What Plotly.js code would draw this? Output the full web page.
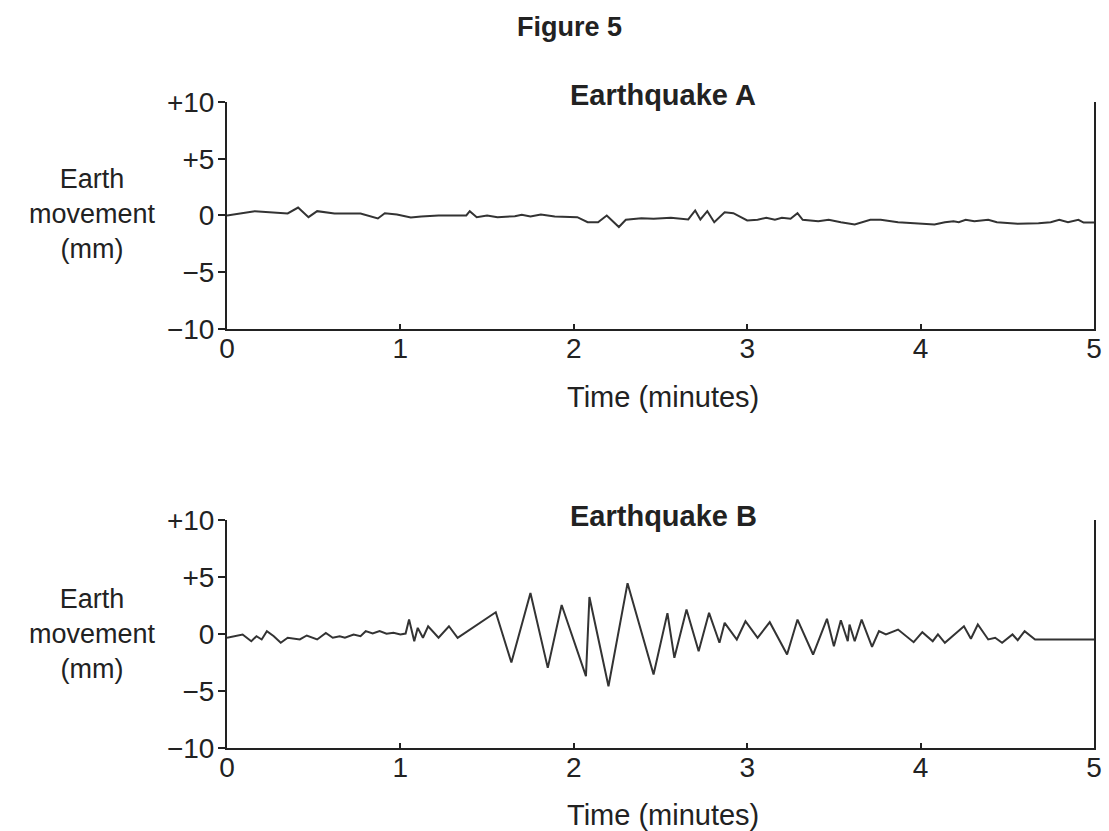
<!DOCTYPE html>
<html>
<head>
<meta charset="utf-8">
<script src="https://cdn.plot.ly/plotly-3.0.1.min.js"></script>
<style>html,body{margin:0;padding:0;background:#fff;}#chart{width:1109px;height:831px;}</style>
</head>
<body>
<div id="chart"></div>
<script>
// Earthquake A (time in minutes, earth movement in mm)
var timeA = [0,0.16,0.35,0.41,0.47,0.52,0.62,0.77,0.87,0.91,0.98,1.06,1.12,1.22,1.38,1.40,1.44,1.50,1.56,1.66,1.70,1.75,1.81,1.89,2.02,2.08,2.14,2.19,2.26,2.30,2.39,2.46,2.56,2.66,2.70,2.73,2.77,2.81,2.87,2.92,3.00,3.06,3.11,3.16,3.20,3.25,3.29,3.32,3.41,3.47,3.54,3.62,3.71,3.77,3.87,3.98,4.08,4.14,4.19,4.22,4.26,4.31,4.39,4.44,4.56,4.68,4.75,4.80,4.85,4.91,4.94,5.0];
var moveA = [0.0,0.38,0.18,0.70,-0.15,0.38,0.18,0.18,-0.26,0.20,0.09,-0.18,-0.09,0.0,0.0,0.38,-0.15,0.0,-0.15,-0.06,0.06,-0.09,0.09,-0.09,-0.15,-0.59,-0.59,0.0,-1.02,-0.38,-0.24,-0.29,-0.2,-0.35,0.44,-0.35,0.38,-0.59,0.29,0.20,-0.44,-0.38,-0.2,-0.38,-0.2,-0.29,0.20,-0.38,-0.5,-0.38,-0.59,-0.79,-0.38,-0.38,-0.59,-0.68,-0.79,-0.59,-0.5,-0.59,-0.38,-0.5,-0.38,-0.59,-0.73,-0.68,-0.59,-0.38,-0.59,-0.38,-0.62,-0.62];

// Earthquake B
var timeB = [0.00,0.09,0.14,0.17,0.20,0.23,0.27,0.31,0.35,0.42,0.46,0.52,0.57,0.61,0.65,0.68,0.73,0.77,0.80,0.84,0.88,0.92,0.96,1.00,1.03,1.05,1.08,1.10,1.13,1.16,1.22,1.28,1.33,1.55,1.64,1.75,1.85,1.93,2.07,2.09,2.20,2.31,2.46,2.54,2.58,2.65,2.72,2.78,2.84,2.87,2.94,2.99,3.06,3.13,3.23,3.29,3.38,3.46,3.50,3.54,3.58,3.59,3.62,3.66,3.72,3.76,3.80,3.87,3.96,4.01,4.07,4.10,4.14,4.25,4.29,4.33,4.39,4.43,4.47,4.53,4.56,4.60,4.66,5.00];
var moveB = [-0.33,-0.04,-0.63,-0.19,-0.48,0.25,-0.19,-0.77,-0.33,-0.48,-0.13,-0.48,0.10,-0.33,-0.19,-0.33,-0.04,-0.19,0.25,0.04,0.25,0.02,0.10,-0.04,0.04,1.27,-0.63,0.54,-0.33,0.68,-0.33,0.68,-0.33,1.91,-2.5,3.6,-2.97,2.55,-3.70,3.25,-4.58,4.46,-3.55,1.83,-2.09,2.15,-1.51,1.86,-0.77,0.98,-0.48,1.12,-0.33,1.04,-1.80,1.27,-1.80,1.33,-1.07,1.21,-0.63,0.83,-0.63,1.27,-1.12,0.25,-0.04,0.39,-0.72,0.16,-0.63,-0.04,-0.77,0.68,-0.42,0.83,-0.48,-0.33,-0.77,-0.04,-0.54,0.25,-0.48,-0.48];

var yTickVals = [-10,-5,0,5,10];
var yTickText = ["\u221210","\u22125","0","+5","+10"];
var xTickVals = [0,1,2,3,4,5];
var xTickText = ["0","1","2","3","4","5"];

var FONT = "Liberation Sans, Arial, sans-serif";
var INK = "#222";

var traces = [
  {x: timeA, y: moveA, xaxis: "x", yaxis: "y", type: "scatter", mode: "lines",
   line: {color: "#333", width: 2}, hoverinfo: "skip"},
  {x: timeB, y: moveB, xaxis: "x2", yaxis: "y2", type: "scatter", mode: "lines",
   line: {color: "#333", width: 2}, hoverinfo: "skip"}
];

function xAxis(anchor) {
  return {anchor: anchor, domain: [0, 1], range: [0, 5], showgrid: false, zeroline: false,
    showline: true, linecolor: INK, linewidth: 2, mirror: false,
    ticks: "inside", ticklen: 5, tickwidth: 2, tickcolor: INK,
    tickvals: xTickVals, ticktext: xTickText, ticklabelstandoff: -7,
    tickfont: {family: FONT, size: 28, color: INK}, fixedrange: true};
}
function yAxis(anchor, dom) {
  return {anchor: anchor, domain: dom, range: [-10, 10], showgrid: false, zeroline: false,
    showline: true, linecolor: INK, linewidth: 2, mirror: true,
    ticks: "outside", ticklen: 7, tickwidth: 2, tickcolor: INK,
    tickvals: yTickVals, ticktext: yTickText, ticklabelstandoff: -2,
    tickfont: {family: FONT, size: 28, color: INK}, fixedrange: true};
}

function ann(text, x, y, size, bold) {
  return {text: bold ? "<b>" + text + "</b>" : text, xref: "paper", yref: "paper",
    x: x, y: y, xanchor: "center", yanchor: "middle", showarrow: false,
    font: {family: FONT, size: size, color: INK}};
}

var layout = {
  width: 1109, height: 831,
  margin: {l: 227, r: 15, t: 0, b: 0},
  paper_bgcolor: "#fff", plot_bgcolor: "#fff",
  showlegend: false,
  xaxis: xAxis("y"),
  yaxis: yAxis("x", [0.6041, 0.8773]),
  xaxis2: xAxis("y2"),
  yaxis2: yAxis("x2", [0.0999, 0.3742]),
  annotations: [
    ann("Figure 5", 0.395, 0.9675, 27, true),
    ann("Earthquake A", 0.503, 0.886, 29, true),
    ann("Earthquake B", 0.503, 0.379, 29, true),
    ann("Earth<br>movement<br>(mm)", -0.155, 0.7425, 27, false),
    ann("Earth<br>movement<br>(mm)", -0.155, 0.237, 27, false),
    ann("Time (minutes)", 0.503, 0.5223, 29, false),
    ann("Time (minutes)", 0.503, 0.0193, 29, false)
  ]
};

Plotly.newPlot("chart", traces, layout, {displayModeBar: false, staticPlot: true});
</script>
</body>
</html>
